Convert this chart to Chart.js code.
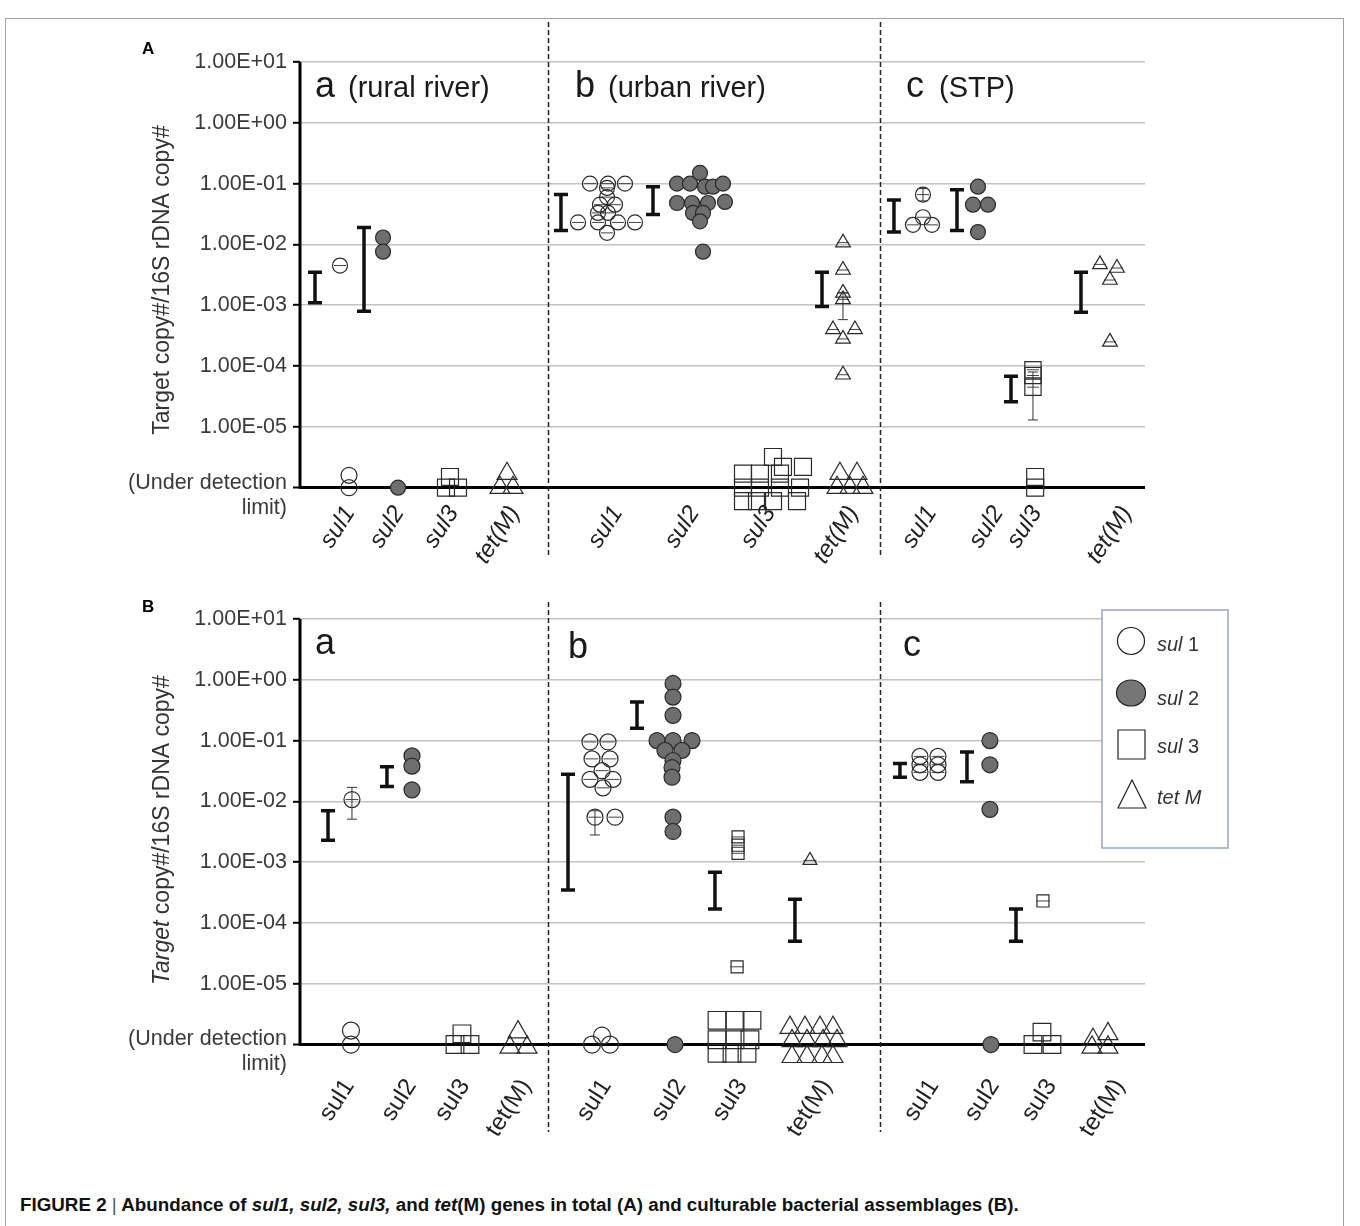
<!DOCTYPE html>
<html>
<head>
<meta charset="utf-8">
<script src="https://cdn.jsdelivr.net/npm/chart.js@4.4.1/dist/chart.umd.min.js"></script>
<style>
	html, body { margin: 0; padding: 0; background: #fff; }
	body { width: 1360px; height: 1226px; position: relative; overflow: hidden; font-family: "Liberation Sans", Arial, sans-serif; }
	#frame { position: absolute; left: 5px; top: 18px; width: 1337px; height: 1220px; border: 1px solid #a0a0a0; }
	.panel { position: absolute; left: 0; width: 1360px; }
	#wrapA { top: 0; height: 590px; }
	#wrapB { top: 590px; height: 560px; }
	#caption { position: absolute; left: 20px; top: 1194px; font: bold 18.8px "Liberation Sans Narrow", "Liberation Sans", Arial, sans-serif; color: #111; white-space: nowrap; }
	#caption .bar { font-weight: normal; color: #555; }
</style>
</head>
<body>
<div id="frame"></div>
<div class="panel" id="wrapA"><canvas id="chartA" width="1360" height="590"></canvas></div>
<div class="panel" id="wrapB"><canvas id="chartB" width="1360" height="560"></canvas></div>
<div id="caption">FIGURE 2 <span class="bar">|</span> Abundance of <i>sul1, sul2, sul3,</i> and <i>tet</i>(M) genes in total (A) and culturable bacterial assemblages (B).</div>

<script>
// ---- data (x = position on the category axis, value = copy ratio; 1e-6 and below = under detection limit)
var UDL = 1e-6;
var DECADES = [1, 0, -1, -2, -3, -4, -5];
var GENES = ['sul1', 'sul2', 'sul3', 'tet(M)'];
var SEPARATORS = [3.52, 8.24];

var A_SITES = [['a', '(rural river)'], ['b', '(urban river)'], ['c', '(STP)']];
var B_SITES = [['a', ''], ['b', ''], ['c', '']];

var A_TICKS = [0.71, 1.41, 2.18, 3.05, 4.51, 5.60, 6.68, 7.86, 8.97, 9.92, 10.46, 11.74];
var B_TICKS = [0.70, 1.58, 2.34, 3.21, 4.35, 5.41, 6.28, 7.48, 9.00, 9.86, 10.67, 11.64];

// panel A: total assemblages
var A_SUL1 = [
	[0.568, 4.5e-3], [0.696, 1.6e-6], [0.696, 1e-6],
	[4.118, 0.1], [4.374, 0.1], [4.615, 0.1], [4.360, 8.5e-2], [4.360, 6e-2],
	[4.260, 4.5e-2], [4.473, 4.5e-2], [4.232, 3.3e-2], [4.374, 3.3e-2],
	[3.948, 2.3e-2], [4.232, 2.3e-2], [4.516, 2.3e-2], [4.757, 2.3e-2], [4.360, 1.55e-2],
	[8.847, 6.6e-2], [8.847, 2.8e-2], [8.705, 2.1e-2], [8.975, 2.1e-2]
];
var A_SUL2 = [
	[1.179, 1.3e-2], [1.179, 7.6e-3], [1.392, 1e-6],
	[5.354, 0.1], [5.538, 0.1], [5.680, 0.15], [5.751, 8.9e-2], [5.865, 8.9e-2], [6.007, 0.1],
	[5.354, 4.8e-2], [5.567, 4.8e-2], [5.794, 4.8e-2], [6.035, 5e-2], [5.581, 3.3e-2],
	[5.723, 3.3e-2], [5.680, 2.4e-2], [5.723, 7.6e-3],
	[9.628, 8.9e-2], [9.557, 4.5e-2], [9.770, 4.5e-2], [9.628, 1.6e-2]
];
var A_SUL3 = [
	[2.073, 1e-6], [2.130, 1.5e-6], [2.244, 1e-6],
	[6.717, 3.2e-6], [6.859, 2.2e-6], [7.143, 2.2e-6], [6.291, 1.7e-6], [6.532, 1.7e-6], [6.816, 1.7e-6],
	[6.291, 1e-6], [6.532, 1e-6], [6.816, 1e-6], [7.101, 1e-6],
	[6.291, 6e-7], [6.490, 6e-7], [6.717, 6e-7], [7.058, 6e-7],
	[10.409, 8.7e-5], [10.409, 7e-5], [10.409, 4.5e-5], [10.44, 1.5e-6], [10.44, 1e-6]
];
var A_TETM = [
	[2.940, 1.7e-6], [2.840, 1e-6], [3.025, 1e-6],
	[7.711, 1.07e-2], [7.711, 3.8e-3], [7.711, 1.6e-3], [7.711, 1.25e-3], [7.569, 4e-4],
	[7.881, 4e-4], [7.711, 2.8e-4], [7.711, 7.2e-5],
	[7.668, 1.7e-6], [7.910, 1.7e-6], [7.626, 1e-6], [7.810, 1e-6], [7.995, 1e-6],
	[11.360, 4.7e-3], [11.602, 4.1e-3], [11.502, 2.6e-3], [11.502, 2.5e-4]
];
// [x, low, high] range bars and single-point error bars
var A_RANGES = [
	[0.213, 1.1e-3, 3.5e-3], [0.909, 8e-4, 1.9e-2],
	[3.706, 1.7e-2, 6.6e-2], [5.013, 3.1e-2, 8.9e-2], [7.413, 9.5e-4, 3.5e-3],
	[8.435, 1.6e-2, 5.4e-2], [9.330, 1.7e-2, 7.9e-2], [10.097, 2.6e-5, 6.8e-5], [11.091, 7.7e-4, 3.5e-3]
];
var A_ERRORS = [[8.847, 5.2e-2, 8.3e-2], [10.409, 1.3e-5, 8e-5], [7.711, 5.8e-4, 1.6e-3]];

// panel B: culturable assemblages
var B_SUL1 = [
	[0.738, 1.07e-2], [0.724, 1.7e-6], [0.724, 1e-6],
	[4.118, 9.5e-2], [4.374, 9.5e-2], [4.147, 5e-2], [4.402, 5e-2], [4.289, 3.2e-2],
	[4.118, 2.3e-2], [4.445, 2.3e-2], [4.303, 1.67e-2], [4.189, 5.5e-3], [4.473, 5.5e-3],
	[4.147, 1e-6], [4.289, 1.4e-6], [4.402, 1e-6],
	[8.804, 5.5e-2], [9.060, 5.5e-2], [8.804, 4e-2], [9.060, 4e-2], [8.804, 3e-2], [9.060, 3e-2]
];
var B_SUL2 = [
	[1.590, 5.6e-2], [1.590, 3.8e-2], [1.590, 1.55e-2],
	[5.297, 0.87], [5.297, 0.52], [5.297, 0.26], [5.070, 0.1], [5.297, 0.1], [5.567, 0.1],
	[5.183, 6.9e-2], [5.425, 6.9e-2], [5.297, 4.7e-2], [5.283, 3.6e-2], [5.283, 2.5e-2],
	[5.297, 5.5e-3], [5.297, 3.2e-3], [5.326, 1e-6],
	[9.798, 0.1], [9.798, 4e-2], [9.798, 7.4e-3], [9.812, 1e-6]
];
var B_SUL3 = [
	[2.300, 1.5e-6], [2.201, 1e-6], [2.414, 1e-6],
	[6.221, 2.6e-3], [6.221, 1.9e-3], [6.221, 1.4e-3], [6.207, 1.9e-5],
	[5.922, 2.5e-6], [6.178, 2.5e-6], [6.419, 2.5e-6], [5.922, 1.2e-6], [6.178, 1.2e-6], [6.390, 1.2e-6],
	[5.922, 7.2e-7], [6.135, 7.2e-7], [6.348, 7.2e-7],
	[10.551, 2.3e-4], [10.537, 1.6e-6], [10.409, 1e-6], [10.679, 1e-6]
];
var B_TETM = [
	[3.096, 1.6e-6], [2.982, 9e-7], [3.224, 9e-7],
	[7.242, 1.07e-3],
	[6.958, 1.9e-6], [7.171, 1.9e-6], [7.384, 1.9e-6], [7.569, 1.9e-6],
	[6.987, 1.15e-6], [7.200, 1.15e-6], [7.427, 1.15e-6], [7.626, 1.15e-6],
	[6.987, 6.3e-7], [7.200, 6.3e-7], [7.413, 6.3e-7], [7.569, 6.3e-7],
	[11.261, 1.2e-6], [11.474, 1.5e-6], [11.247, 9e-7], [11.474, 9e-7]
];
var B_RANGES = [
	[0.398, 2.3e-3, 7e-3], [1.235, 1.75e-2, 3.7e-2],
	[3.806, 3.5e-4, 2.8e-2], [4.786, 0.16, 0.43], [5.893, 1.7e-4, 6.8e-4], [7.029, 5e-5, 2.45e-4],
	[8.520, 2.5e-2, 4.2e-2], [9.472, 2.1e-2, 6.5e-2], [10.168, 5e-5, 1.7e-4]
];
var B_ERRORS = [[0.738, 5.1e-3, 1.7e-2], [4.189, 2.8e-3, 7e-3]];

var LEGEND = [['circle', 'sul', ' 1'], ['filled', 'sul', ' 2'], ['rect', 'sul', ' 3'], ['triangle', 'tet M', '']];

// ---- helpers
var FONT = '"Liberation Sans", Arial, sans-serif';
var INK = '#2a2a2a';
var GRAY_FILL = '#6e6e6e';

function toPoints(arr) {
	return arr.map(function (p) { return { x: p[0], y: Math.log10(p[1]) }; });
}
function detected(arr) {
	return toPoints(arr.filter(function (p) { return p[1] > 5e-6; }));
}
function expLabel(v) {
	var e = Math.round(v);
	return '1.00E' + (e >= 0 ? '+' : '-') + (Math.abs(e) < 10 ? '0' : '') + Math.abs(e);
}

function makeDecor(cfg) {
	return {
		id: 'decor' + cfg.name,
		afterDatasetsDraw: function (chart) {
			var ctx = chart.ctx, xs = chart.scales.x, ys = chart.scales.y, area = chart.chartArea;
			ctx.save();
			// separators
			ctx.strokeStyle = '#222';
			ctx.lineWidth = 1.5;
			ctx.setLineDash([5, 3]);
			SEPARATORS.forEach(function (s) {
				var x = Math.round(xs.getPixelForValue(s)) + 0.5;
				ctx.beginPath();
				ctx.moveTo(x, cfg.sepTop);
				ctx.lineTo(x, cfg.sepBottom);
				ctx.stroke();
			});
			ctx.setLineDash([]);
			// range bars
			ctx.strokeStyle = '#111';
			cfg.ranges.forEach(function (r) {
				var x = xs.getPixelForValue(r[0]);
				var y1 = ys.getPixelForValue(Math.log10(r[1])), y2 = ys.getPixelForValue(Math.log10(r[2]));
				ctx.lineWidth = 3.5;
				ctx.beginPath();
				ctx.moveTo(x, y1); ctx.lineTo(x, y2);
				ctx.moveTo(x - 7, y1); ctx.lineTo(x + 7, y1);
				ctx.moveTo(x - 7, y2); ctx.lineTo(x + 7, y2);
				ctx.stroke();
			});
			ctx.lineWidth = 1;
			ctx.strokeStyle = '#333';
			cfg.errors.forEach(function (r) {
				var x = xs.getPixelForValue(r[0]);
				var y1 = ys.getPixelForValue(Math.log10(r[1])), y2 = ys.getPixelForValue(Math.log10(r[2]));
				ctx.beginPath();
				ctx.moveTo(x, y1); ctx.lineTo(x, y2);
				ctx.moveTo(x - 5, y1); ctx.lineTo(x + 5, y1);
				ctx.moveTo(x - 5, y2); ctx.lineTo(x + 5, y2);
				ctx.stroke();
			});
			// y axis line
			ctx.strokeStyle = '#000';
			ctx.lineWidth = 3;
			ctx.beginPath();
			ctx.moveTo(area.left, ys.getPixelForValue(1));
			ctx.lineTo(area.left, ys.getPixelForValue(-6) + 1);
			ctx.stroke();
			// under detection limit label
			var yU = ys.getPixelForValue(-6);
			ctx.fillStyle = '#3a3a3a';
			ctx.font = '21.5px ' + FONT;
			ctx.textAlign = 'right';
			ctx.textBaseline = 'middle';
			ctx.fillText('(Under detection', area.left - 13, yU - 5);
			ctx.fillText('limit)', area.left - 13, yU + 20);
			// y title
			ctx.save();
			ctx.translate(163, cfg.titleY);
			ctx.rotate(-Math.PI / 2);
			ctx.textBaseline = 'middle';
			ctx.textAlign = 'left';
			var t1 = cfg.titleItalic ? 'italic 23px ' + FONT : '23px ' + FONT;
			ctx.font = t1;
			var w1 = ctx.measureText('Target').width;
			ctx.font = '23px ' + FONT;
			var w2 = ctx.measureText(' copy#/16S rDNA copy#').width;
			var x0 = -(w1 + w2) / 2;
			ctx.fillStyle = '#333';
			ctx.font = t1;
			ctx.fillText('Target', x0, 0);
			ctx.font = '23px ' + FONT;
			ctx.fillText(' copy#/16S rDNA copy#', x0 + w1, 0);
			ctx.restore();
			// site labels
			ctx.textAlign = 'left';
			ctx.textBaseline = 'alphabetic';
			ctx.fillStyle = '#1a1a1a';
			cfg.sites.forEach(function (s, i) {
				var p = cfg.sitePos[i];
				ctx.font = '36px ' + FONT;
				ctx.fillText(s[0], p[0], p[1]);
				if (s[1]) {
					ctx.font = '29px ' + FONT;
					ctx.fillText(s[1], p[0] + 33, p[1]);
				}
			});
			// panel letter
			ctx.font = 'bold 17px ' + FONT;
			ctx.fillStyle = '#000';
			ctx.fillText(cfg.letter, cfg.letterPos[0], cfg.letterPos[1]);
			if (cfg.legend) drawLegend(ctx, cfg.legend);
			ctx.restore();
		}
	};
}

function drawLegend(ctx, box) {
	ctx.fillStyle = '#fff';
	ctx.fillRect(box.x, box.y, box.w, box.h);
	ctx.strokeStyle = '#97a6bc';
	ctx.lineWidth = 1.5;
	ctx.strokeRect(box.x, box.y, box.w, box.h);
	ctx.strokeStyle = '#222';
	ctx.lineWidth = 1.2;
	LEGEND.forEach(function (item, i) {
		var cx = box.x + 29, cy = box.y + 31 + i * 51;
		ctx.beginPath();
		if (item[0] === 'circle') {
			ctx.arc(cx, cy, 13.5, 0, Math.PI * 2);
			ctx.stroke();
		} else if (item[0] === 'filled') {
			ctx.ellipse(cx, cy + 1, 14.5, 13, 0, 0, Math.PI * 2);
			ctx.fillStyle = '#767676';
			ctx.fill();
			ctx.stroke();
		} else if (item[0] === 'rect') {
			ctx.rect(cx - 13, cy - 13, 27, 29);
			ctx.stroke();
		} else {
			ctx.moveTo(cx + 1, cy - 14);
			ctx.lineTo(cx + 15, cy + 14);
			ctx.lineTo(cx - 13, cy + 14);
			ctx.closePath();
			ctx.stroke();
		}
		ctx.fillStyle = '#333';
		ctx.textAlign = 'left';
		ctx.textBaseline = 'alphabetic';
		ctx.font = 'italic 20px ' + FONT;
		var tx = box.x + 55, ty = cy + 10 + (i === 1 ? 3 : 0);
		ctx.fillText(item[1], tx, ty);
		var w = ctx.measureText(item[1]).width;
		ctx.font = '20px ' + FONT;
		ctx.fillText(item[2], tx + w, ty);
	});
}

function markerDataset(data, style, detR, udlR) {
	return {
		data: toPoints(data),
		pointStyle: style,
		pointRadius: function (c) { return c.raw && c.raw.y < -5.3 ? udlR : detR; },
		pointBorderWidth: 1.2,
		pointBorderColor: INK,
		pointBackgroundColor: 'rgba(0,0,0,0)',
		showLine: false,
		clip: false
	};
}

function buildChart(canvasId, p) {
	var sul2 = markerDataset(p.sul2, 'circle', p.circleR, p.circleR);
	sul2.pointBackgroundColor = GRAY_FILL;
	var inner = [].concat(detected(p.sul1), detected(p.sul2), detected(p.sul3), detected(p.tetm));
	var datasets = [
		markerDataset(p.sul1, 'circle', p.circleR, p.circleR + 0.5),
		sul2,
		markerDataset(p.sul3, 'rect', p.rectR, p.rectUdlR),
		markerDataset(p.tetm, 'triangle', p.triR, p.triUdlR),
		{ data: inner, pointStyle: 'line', pointRadius: p.circleR - 1.5, pointBorderWidth: 1, pointBorderColor: '#444', showLine: false, clip: false }
	];
	return new Chart(document.getElementById(canvasId), {
		type: 'scatter',
		data: { datasets: datasets },
		plugins: [makeDecor(p.decor)],
		options: {
			responsive: false,
			animation: false,
			layout: { padding: { top: p.padTop, right: 215, bottom: 0, left: 0 } },
			plugins: { legend: { display: false }, tooltip: { enabled: false } },
			scales: {
				x: {
					type: 'linear', min: 0, max: 12,
					afterBuildTicks: function (axis) { axis.ticks = p.ticks.map(function (v) { return { value: v }; }); },
					afterFit: function (s) { s.height = p.xHeight; },
					grid: { display: false },
					border: { display: false },
					ticks: {
						autoSkip: false, minRotation: 57, maxRotation: 57, padding: p.labelPad,
						color: '#222',
						font: { family: FONT, size: 24, style: p.labelStyle },
						callback: function (v, i) { return GENES[i % 4]; }
					}
				},
				y: {
					type: 'linear', min: p.yMin, max: 1,
					afterBuildTicks: function (axis) {
						axis.ticks = [-6].concat(DECADES.slice().reverse()).map(function (v) { return { value: v }; });
					},
					afterFit: function (s) { s.width = 300; },
					border: { display: false },
					grid: {
						color: function (c) { return c.tick && c.tick.value === -6 ? '#000' : '#c2c2c2'; },
						lineWidth: function (c) { return c.tick && c.tick.value === -6 ? 3 : 1.6; },
						tickColor: '#000', tickLength: 7, tickWidth: 2
					},
					ticks: {
						padding: 6, color: '#3a3a3a',
						font: { family: FONT, size: 21.5 },
						callback: function (v) { return v === -6 ? '' : expLabel(v); }
					}
				}
			}
		}
	});
}

buildChart('chartA', {
	sul1: A_SUL1, sul2: A_SUL2, sul3: A_SUL3, tetm: A_TETM, ticks: A_TICKS,
	circleR: 7.5, rectR: 11.5, rectUdlR: 12, triR: 8.5, triUdlR: 11.5,
	padTop: 62, yMin: -6.25, xHeight: 87.1, labelStyle: 'italic', labelPad: -10,
	decor: {
		name: 'A', ranges: A_RANGES, errors: A_ERRORS, sites: A_SITES,
		sitePos: [[315, 97], [575, 97], [906, 97]],
		sepTop: 22, sepBottom: 556, titleY: 280, titleItalic: false,
		letter: 'A', letterPos: [142, 54]
	}
});

buildChart('chartB', {
	sul1: B_SUL1, sul2: B_SUL2, sul3: B_SUL3, tetm: B_TETM, ticks: B_TICKS,
	circleR: 8, rectR: 8.5, rectUdlR: 12.5, triR: 8, triUdlR: 11.5,
	padTop: 29, yMin: -6.45, xHeight: 78.1, labelStyle: 'normal', labelPad: -6,
	decor: {
		name: 'B', ranges: B_RANGES, errors: B_ERRORS, sites: B_SITES,
		sitePos: [[315, 64], [568, 68], [903, 66]],
		sepTop: 12, sepBottom: 542, titleY: 240, titleItalic: true,
		letter: 'B', letterPos: [142, 22],
		legend: { x: 1102, y: 20, w: 126, h: 238 }
	}
});
</script>
</body>
</html>
